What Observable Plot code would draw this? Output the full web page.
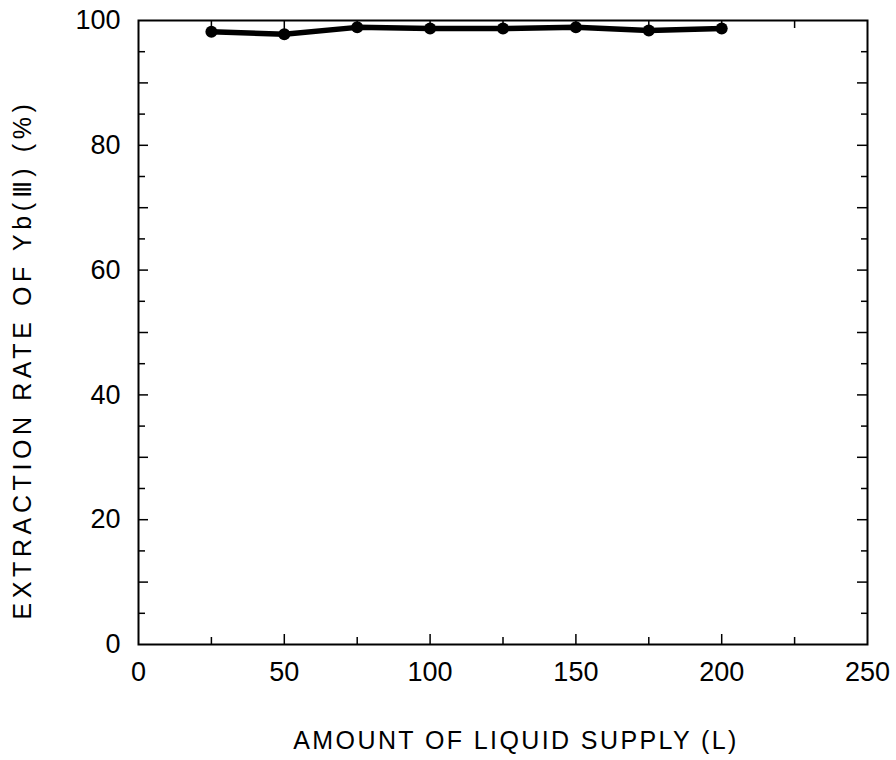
<!DOCTYPE html>
<html>
<head>
<meta charset="utf-8">
<script src="https://cdn.jsdelivr.net/npm/d3@7"></script>
<script src="https://cdn.jsdelivr.net/npm/@observablehq/plot@0.6"></script>
<style>
  html, body { margin: 0; padding: 0; background: #fff; }
</style>
</head>
<body>
<div id="chart"></div>
<script>
// Data
const supply = [25, 50, 75, 100, 125, 150, 175, 200];          // L
const extraction = [98.2, 97.8, 98.9, 98.7, 98.7, 98.9, 98.4, 98.7]; // %

// Axis ticks
const xTickLabels = [0, 50, 100, 150, 200, 250];
const xMajorTicks = [50, 100, 150, 200];
const xMinorTicks = [25, 75, 125, 175, 225];
const yTickLabels = [0, 20, 40, 60, 80, 100];
const yMajorTicks = [10, 20, 30, 40, 50, 60, 70, 80, 90];
const yMinorTicks = [5, 15, 25, 35, 45, 55, 65, 75, 85, 95];

const xLabel = "AMOUNT OF LIQUID SUPPLY (L)";
const yLabel = "EXTRACTION RATE OF Yb(Ⅲ) (%)";

const data = supply.map((x, i) => ({x, y: extraction[i]}));
const none = () => "";

const inTicksX = (ticks, anchor, len) =>
  Plot.axisX(ticks, {anchor, tickSize: len, inset: len, tickFormat: none, label: null, strokeWidth: 1.5});
const inTicksY = (ticks, anchor, len) =>
  Plot.axisY(ticks, {anchor, tickSize: len, inset: len, tickFormat: none, label: null, strokeWidth: 1.5});

const chart = Plot.plot({
  width: 896,
  height: 760,
  marginLeft: 138,
  marginRight: 29,
  marginTop: 20,
  marginBottom: 116,
  x: {domain: [0, 250]},
  y: {domain: [0, 100]},
  style: {
    fontFamily: "'Liberation Sans', Arial, Helvetica, sans-serif",
    fontSize: "27px",
    color: "black",
    background: "white"
  },
  marks: [
    Plot.frame({stroke: "black", strokeWidth: 2}),
    // tick labels
    Plot.axisX(xTickLabels, {anchor: "bottom", tickSize: 0, tickPadding: 17, label: null, fontSize: 27}),
    Plot.axisY(yTickLabels, {anchor: "left", tickSize: 0, tickPadding: 18, label: null, fontSize: 27}),
    // inward ticks on all four sides
    inTicksX(xMajorTicks, "bottom", 10),
    inTicksX(xMinorTicks, "bottom", 7),
    inTicksX(xMajorTicks, "top", 8),
    inTicksX(xMinorTicks, "top", 7),
    inTicksY(yMajorTicks, "left", 10),
    inTicksY(yMinorTicks, "left", 7),
    inTicksY(yMajorTicks, "right", 11),
    inTicksY(yMinorTicks, "right", 7),
    // axis titles
    Plot.text([xLabel], {frameAnchor: "bottom", dy: 96, dx: 13, fontSize: 25, lineAnchor: "middle", textAnchor: "middle", fill: "black"}),
    Plot.text([yLabel], {frameAnchor: "left", dx: -116, dy: 27, rotate: -90, fontSize: 25, lineAnchor: "middle", textAnchor: "middle", fill: "black"}),
    // data
    Plot.line(data, {x: "x", y: "y", stroke: "black", strokeWidth: 5.5, strokeLinejoin: "round", strokeLinecap: "round"}),
    Plot.dot(data, {x: "x", y: "y", r: 6, fill: "black", stroke: "none"})
  ]
});

document.getElementById("chart").appendChild(chart);

// letter spacing for the axis titles to match the scanned lettering
d3.select(chart).selectAll("text")
  .filter(function () { return this.textContent === xLabel; })
  .attr("letter-spacing", "2.4px");
d3.select(chart).selectAll("text")
  .filter(function () { return this.textContent === yLabel; })
  .attr("letter-spacing", "4.6px");
</script>
</body>
</html>
